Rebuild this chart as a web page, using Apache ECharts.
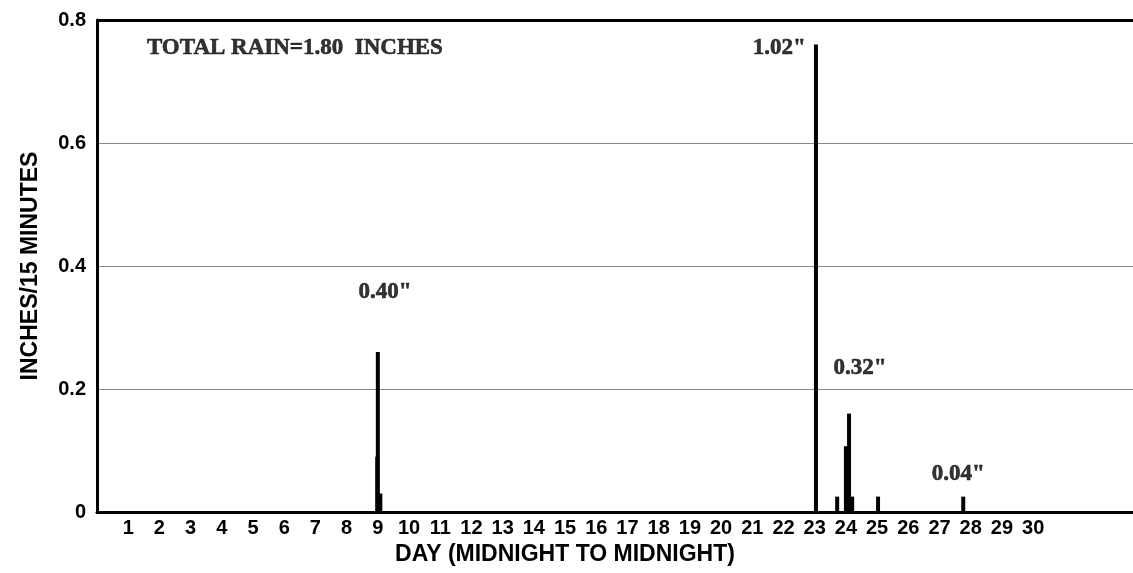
<!DOCTYPE html>
<html>
<head>
<meta charset="utf-8">
<script src="https://cdn.jsdelivr.net/npm/echarts@6/dist/echarts.min.js"></script>
<style>
html,body{margin:0;padding:0;background:#fff;}
#chart{width:1133px;height:573px;}
</style>
</head>
<body>
<div id="chart"></div>
<script>
// Rain per 15-minute interval: [day (fractional), inches]
const rainDays   = [8.98, 9.0, 9.08, 23.04, 23.72, 24.0, 24.1, 24.2, 25.03, 27.76];
const rainValues = [0.09, 0.26, 0.03, 0.76, 0.025, 0.107, 0.16, 0.025, 0.025, 0.025];

// x tick labels (days of month)
const dayLabels = [1,2,3,4,5,6,7,8,9,10,11,12,13,14,15,16,17,18,19,20,21,22,23,24,25,26,27,28,29,30];
const yTicks = [0, 0.2, 0.4, 0.6, 0.8];

// annotations: [day, inches, text]
const annoDays  = [9.23, 21.86, 24.45, 27.6];
const annoVals  = [0.358, 0.754, 0.234, 0.062];
const annoTexts = ['0.40"', '1.02"', '0.32"', '0.04"'];
const totalText = 'TOTAL RAIN=1.80  INCHES';
const totalPos  = [1.6, 0.754];

const chart = echarts.init(document.getElementById('chart'));
const sans = '"Liberation Sans", Arial, sans-serif';
const serif = '"Liberation Serif", "Times New Roman", serif';

const barData = rainDays.map((d, i) => [d, rainValues[i]]);
const annoData = annoDays.map((d, i) => [d, annoVals[i], annoTexts[i]]);

const serifLabel = {
  show: true, formatter: p => p.data[2],
  fontFamily: serif, fontWeight: 'bold', fontSize: 23, color: '#000',
  textBorderColor: '#000', textBorderWidth: 0.6
};

chart.setOption({
  animation: false,
  backgroundColor: '#fff',
  grid: { left: 97, right: 0, top: 20, bottom: 61 },
  xAxis: {
    type: 'value', min: 0, max: 33.2, interval: 1,
    name: 'DAY (MIDNIGHT TO MIDNIGHT)', nameLocation: 'middle', nameGap: 27,
    nameTextStyle: { fontFamily: sans, fontWeight: 'bold', fontSize: 23, color: '#000', padding: [0, 100, 0, 0] },
    axisLine: { show: true, onZero: false, lineStyle: { color: '#000', width: 3 } },
    axisTick: { show: false },
    splitLine: { show: false },
    axisLabel: {
      margin: 6, fontFamily: sans, fontWeight: 'bold', fontSize: 20, color: '#000',
      showMinLabel: true, showMaxLabel: false,
      formatter: v => dayLabels.indexOf(v) >= 0 ? String(v) : ''
    }
  },
  yAxis: {
    type: 'value', min: yTicks[0], max: yTicks[yTicks.length - 1], interval: 0.2,
    name: 'INCHES/15 MINUTES', nameLocation: 'middle', nameGap: 55,
    nameTextStyle: { fontFamily: sans, fontWeight: 'bold', fontSize: 23, color: '#000' },
    axisLine: { show: true, lineStyle: { color: '#000', width: 3 } },
    axisTick: { show: false },
    splitLine: { show: true, lineStyle: { color: '#888', width: 1 } },
    axisLabel: {
      margin: 11, fontFamily: sans, fontWeight: 'bold', fontSize: 20, color: '#000',
      formatter: v => v === 0 ? '0' : v.toFixed(1)
    }
  },
  series: [{
    type: 'bar',
    data: barData,
    barWidth: 4,
    barGap: '-100%',
    itemStyle: { color: '#000' },
    z: 3,
    markLine: {
      silent: true, symbol: 'none', label: { show: false },
      lineStyle: { color: '#000', width: 3, type: 'solid' },
      data: [{ yAxis: yTicks[yTicks.length - 1] }]
    }
  }, {
    type: 'scatter',
    data: annoData,
    symbolSize: 0,
    label: Object.assign({ position: 'inside' }, serifLabel),
    z: 4
  }, {
    type: 'scatter',
    data: [[totalPos[0], totalPos[1], totalText]],
    symbolSize: 0,
    label: Object.assign({ position: 'right', distance: 0 }, serifLabel),
    z: 4
  }]
});
</script>
</body>
</html>
